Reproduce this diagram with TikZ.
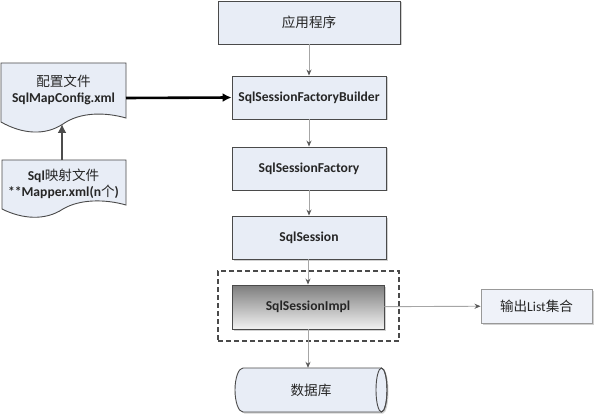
\documentclass[tikz,border=0pt]{standalone}
\usepackage{fontspec}
\setmainfont{Carlito}
\newfontfamily\cjk{Noto Sans CJK SC}
\usetikzlibrary{arrows.meta,shadows}
\definecolor{boxfill}{HTML}{E8EDF6}
\definecolor{boxline}{HTML}{4A4A4A}
\definecolor{txt}{HTML}{262626}
\definecolor{arr}{HTML}{A6A6A6}
\definecolor{arrtip}{HTML}{595959}
\tikzset{
  flowbox/.style={draw=boxline, line width=0.9pt, fill=boxfill, text=txt,
    font=\fontsize{13.6}{15}\selectfont\bfseries, inner sep=0pt,
    drop shadow={shadow xshift=1.5pt, shadow yshift=-1.5pt, fill=gray!60, opacity=0.6}},
  thinarrow/.style={draw=arr, line width=0.9pt, -{Stealth[length=6pt,width=5pt,color=arrtip]}},
  docshape/.style={draw=boxline, line width=0.9pt, fill=boxfill},
  doctext/.style={text=txt, align=center, inner sep=0pt, font=\fontsize{13.6}{18}\selectfont},
}
\begin{document}
\begin{tikzpicture}[x=1pt,y=-1pt]
\useasboundingbox (0,0) rectangle (594,414);

% main column
\node[flowbox, minimum width=182pt, minimum height=43pt] (app) at (309,22.5) {\cjk\mdseries 应用程序};
\node[flowbox, minimum width=154pt, minimum height=43pt] (builder) at (309,97.5) {SqlSessionFactoryBuilder};
\node[flowbox, minimum width=154pt, minimum height=43pt] (factory) at (309,168.5) {SqlSessionFactory};
\node[flowbox, minimum width=154pt, minimum height=43pt] (session) at (309,237.5) {SqlSession};
\node[draw=boxline, dashed, dash pattern=on 5pt off 3pt, line width=1.4pt, minimum width=181pt, minimum height=70pt, inner sep=0pt] (grp) at (308.5,306) {};
\node[flowbox, draw=boxline, shading=axis, top color={rgb,255:red,125;green,125;blue,125}, bottom color={rgb,255:red,242;green,242;blue,242}, minimum width=152pt, minimum height=44pt] (impl) at (308,307) {SqlSessionImpl};
\node[flowbox, draw=gray!80, fill=boxfill!70!white, minimum width=111pt, minimum height=34pt, font=\fontsize{13.6}{15}\selectfont] (out) at (536.5,306) {\cjk 输出\rmfamily List\cjk 集合};

% database cylinder
\fill[gray!60, opacity=0.6, xshift=1.5pt, yshift=-1.5pt]
  (243,368) -- (381.5,368) arc[start angle=-90, end angle=90, x radius=5.5pt, y radius=-22pt] -- (243,412)
  arc[start angle=90, end angle=270, x radius=8pt, y radius=-22pt] -- cycle;
\draw[docshape]
  (243,368) -- (381.5,368) arc[start angle=-90, end angle=90, x radius=5.5pt, y radius=-22pt] -- (243,412)
  arc[start angle=90, end angle=270, x radius=8pt, y radius=-22pt] -- cycle;
\draw[boxline, line width=0.9pt] (381.5,390) ellipse[x radius=5.5pt, y radius=22pt];
\node[minimum width=152pt, minimum height=44pt, inner sep=0pt, text=txt, font=\fontsize{13.6}{15}\selectfont\cjk] (db) at (311,390) {数据库};

% documents
\draw[docshape] (1,63) -- (126,63) -- (126,118)
  .. controls (105,112) and (80,112) .. (63,124)
  .. controls (45,136) and (22,134) .. (1,122) -- cycle;
\node[doctext] (cfg) at (63.5,90) {{\cjk 配置文件}\\[-2pt]\bfseries SqlMapConfig.xml};
\coordinate (cfgbot) at (62,124);
\coordinate (cfgright) at (126,98);

\draw[docshape] (2,160) -- (126,160) -- (126,205)
  .. controls (105,199) and (80,199) .. (63,209)
  .. controls (45,221) and (22,219) .. (2,209) -- cycle;
\node[doctext] (map) at (63.5,184) {{\bfseries Sql}{\cjk 映射文件}\\[-2pt]{\bfseries **Mapper.xml(n}{\cjk 个}{\bfseries )}};
\coordinate (maptop) at (62,160);

% connectors
\draw[thinarrow] (app) -- (builder);
\draw[thinarrow] (builder) -- (factory);
\draw[thinarrow] (factory) -- (session);
\draw[thinarrow] (session.south -| impl.north) -- (impl.north);
\draw[thinarrow] (impl) -- (out);
\draw[thinarrow] (impl.south) -- (impl.south |- db.north);
\draw[line width=2.6pt, black, -{Latex[length=9pt,width=9pt]}] (cfgright) -- (builder.west);
\draw[line width=2.6pt, black!70, -{Latex[length=9pt,width=9pt]}] (maptop) -- (cfgbot);
\end{tikzpicture}
\end{document}
